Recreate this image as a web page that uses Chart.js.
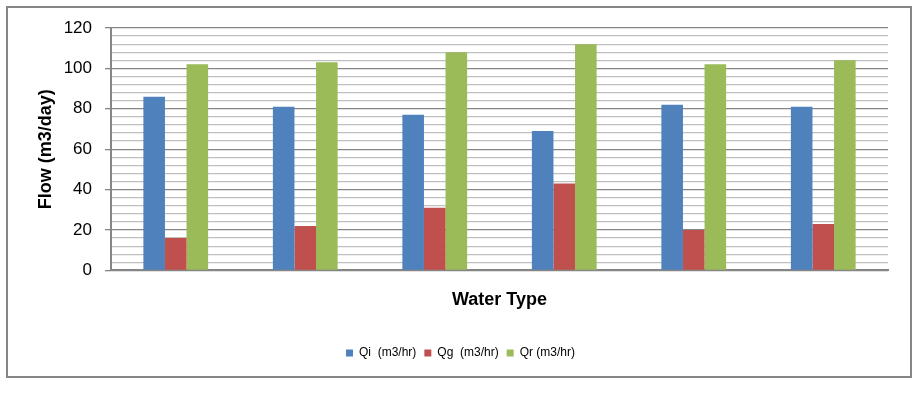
<!DOCTYPE html>
<html><head><meta charset="utf-8">
<script src="https://cdn.jsdelivr.net/npm/chart.js@4"></script>
<style>html,body{margin:0;padding:0;background:#fff}#wrap{width:921px;height:394px;position:relative}</style>
</head><body><div id="wrap"><canvas id="c" width="921" height="394"></canvas></div>
<script>
const categories = ['', '', '', '', '', ''];
const qi = [86, 81, 77, 69, 82, 81];
const qg = [16, 22, 31, 43, 20, 23];
const qr = [102, 103, 108, 112, 102, 104];
const seriesNames = ['Qi  (m3/hr)', 'Qg  (m3/hr)', 'Qr (m3/hr)'];
const yTicksMajor = [0, 20, 40, 60, 80, 100, 120];

const frame = {
  id: 'frame',
  beforeDraw(chart) {
    const ctx = chart.ctx;
    ctx.save();
    ctx.fillStyle = '#fff';
    ctx.fillRect(0, 0, chart.width, chart.height);
    ctx.strokeStyle = '#868686';
    ctx.lineWidth = 2;
    ctx.strokeRect(7, 7, 904, 370);
    ctx.restore();
    const lg = chart.legend;
    if (lg && !lg._shifted) { lg.left += 13; lg.right += 13; lg._shifted = true; }
  }
};

new Chart(document.getElementById('c'), {
  type: 'bar',
  data: {
    labels: categories,
    datasets: [
      { label: seriesNames[0], data: qi, backgroundColor: '#4f81bd' },
      { label: seriesNames[1], data: qg, backgroundColor: '#c0504d' },
      { label: seriesNames[2], data: qr, backgroundColor: '#9bbb59' }
    ]
  },
  plugins: [frame],
  options: {
    responsive: false,
    animation: false,
    events: [],
    layout: { padding: { left: 7, right: 33, top: 28, bottom: 25 } },
    datasets: { bar: { categoryPercentage: 0.5, barPercentage: 1.0 } },
    plugins: {
      tooltip: { enabled: false },
      legend: {
        position: 'bottom',
        labels: {
          boxWidth: 7, boxHeight: 7, padding: 8,
          color: '#000',
          font: { family: 'Liberation Sans', size: 12 }
        }
      }
    },
    scales: {
      x: {
        ticks: { display: false },
        grid: { display: false, drawTicks: false },
        border: { display: true, color: '#868686', width: 2 },
        title: {
          display: true, text: 'Water Type', color: '#000',
          font: { family: 'Liberation Sans', size: 18, weight: 'bold' },
          padding: { top: 19, bottom: 28 }
        }
      },
      y: {
        min: 0, max: 120,
        afterFit(scale) { scale.width = 104; },
        ticks: {
          stepSize: 4,
          autoSkip: false,
          color: '#000',
          padding: 13,
          font: { family: 'Liberation Sans', size: 17 },
          callback: v => (yTicksMajor.includes(v) ? v : '')
        },
        grid: {
          color: c => (c.tick && c.tick.value % 20 === 0 ? '#868686' : '#bfbfbf'),
          lineWidth: 1.3,
          tickLength: 6,
          tickColor: c => (c.tick && c.tick.value % 20 === 0 ? '#868686' : 'rgba(0,0,0,0)')
        },
        border: { display: true, color: '#868686', width: 2 },
        title: {
          display: true, text: 'Flow (m3/day)', color: '#000',
          font: { family: 'Liberation Sans', size: 18, weight: 'bold' },
          padding: { top: 28, bottom: 10 }
        }
      }
    }
  }
});
</script></body></html>
